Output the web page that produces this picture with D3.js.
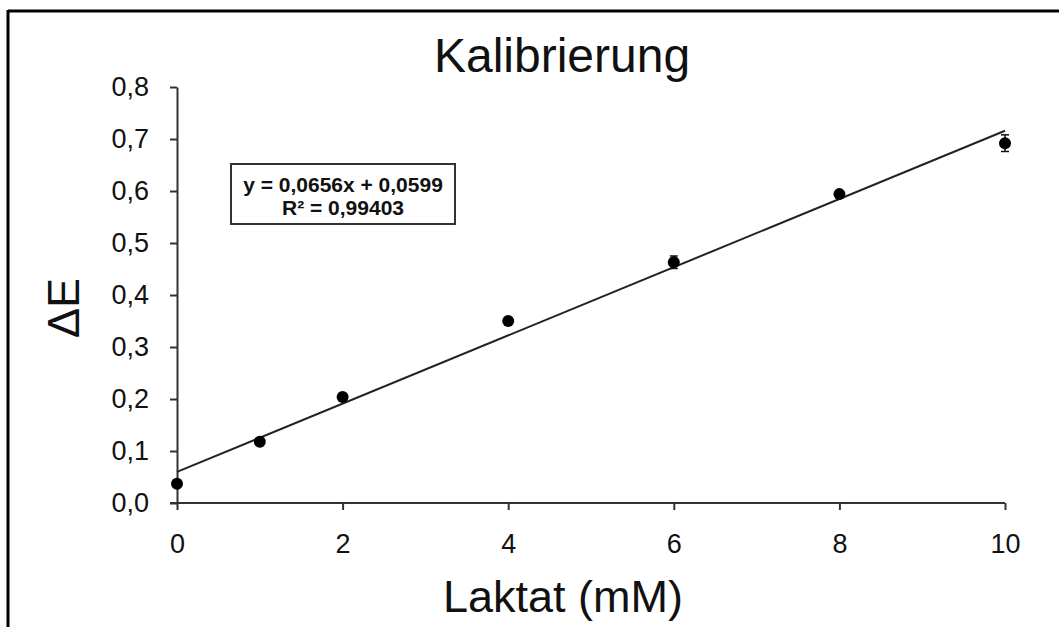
<!DOCTYPE html>
<html lang="de">
<head>
<meta charset="UTF-8">
<script src="https://d3js.org/d3.v7.min.js"></script>
<title>Kalibrierung</title>
<style>
  body { margin: 0; background: #fff; }
  text { font-family: "Liberation Sans", Arial, sans-serif; fill: #111; }
</style>
</head>
<body>
<div id="chart"></div>
<script>
// Data
var laktat = [0, 1, 2, 4, 6, 8, 10];
var deltaE = [0.037, 0.118, 0.204, 0.350, 0.463, 0.594, 0.692];
var errors = [0.004, 0.004, 0.004, 0.006, 0.012, 0.005, 0.016];
var xTicks = [0, 2, 4, 6, 8, 10];
var yTicks = [0, 0.1, 0.2, 0.3, 0.4, 0.5, 0.6, 0.7, 0.8];
var slope = 0.0656, intercept = 0.0599;
var eqLines = ["y = 0,0656x + 0,0599", "R\u00b2 = 0,99403"];

var W = 1059, H = 627;
var margin = { top: 87, right: 54, bottom: 124, left: 177 };
var width = W - margin.left - margin.right,
    height = H - margin.top - margin.bottom;

var svg = d3.select("#chart").append("svg")
    .attr("width", W)
    .attr("height", H);

// frame (only top and left visible)
svg.append("line").attr("x1", 8).attr("x2", W).attr("y1", 11).attr("y2", 11)
    .attr("stroke", "#000").attr("stroke-width", 3);
svg.append("line").attr("x1", 8).attr("x2", 8).attr("y1", 10).attr("y2", H)
    .attr("stroke", "#000").attr("stroke-width", 3);

var g = svg.append("g")
    .attr("transform", "translate(" + margin.left + "," + margin.top + ")");

var x = d3.scaleLinear().domain([0, 10]).range([0, width]);
var y = d3.scaleLinear().domain([0, 0.8]).range([height, 0]);

var fmt = function (d) { return d3.format(".1f")(d).replace(".", ","); };

// y axis
var yAxis = g.append("g")
    .call(d3.axisLeft(y).tickValues(yTicks).tickFormat(fmt).tickSize(7).tickSizeOuter(0).tickPadding(21));
yAxis.select(".domain").attr("stroke", "#333").attr("stroke-width", 2);
yAxis.selectAll(".tick line").attr("stroke", "#333").attr("stroke-width", 2);
yAxis.selectAll(".tick text").attr("font-size", "27px").attr("fill", "#222");

// x axis
var xAxis = g.append("g")
    .attr("transform", "translate(0," + height + ")")
    .call(d3.axisBottom(x).tickValues(xTicks).tickSize(7).tickSizeOuter(0).tickPadding(24));
xAxis.select(".domain").attr("stroke", "#333").attr("stroke-width", 2)
    .attr("d", "M-7,0H" + width);
xAxis.selectAll(".tick line").attr("stroke", "#333").attr("stroke-width", 2);
xAxis.selectAll(".tick text").attr("font-size", "27px").attr("fill", "#222");

// regression line
g.append("line")
    .attr("x1", x(0)).attr("y1", y(intercept))
    .attr("x2", x(10)).attr("y2", y(intercept + slope * 10))
    .attr("stroke", "#222").attr("stroke-width", 2);

var pts = laktat.map(function (d, i) { return { x: d, y: deltaE[i], e: errors[i] }; });

// error bars
var eb = g.selectAll("g.err").data(pts).enter().append("g").attr("class", "err");
eb.append("line")
    .attr("x1", function (d) { return x(d.x); })
    .attr("x2", function (d) { return x(d.x); })
    .attr("y1", function (d) { return y(d.y - d.e); })
    .attr("y2", function (d) { return y(d.y + d.e); })
    .attr("stroke", "#111").attr("stroke-width", 1.5);
eb.selectAll("line.cap").data(function (d) { return [[d.x, d.y - d.e], [d.x, d.y + d.e]]; })
    .enter().append("line").attr("class", "cap")
    .attr("x1", function (d) { return x(d[0]) - 4; })
    .attr("x2", function (d) { return x(d[0]) + 4; })
    .attr("y1", function (d) { return y(d[1]); })
    .attr("y2", function (d) { return y(d[1]); })
    .attr("stroke", "#111").attr("stroke-width", 1.5);

// points
g.selectAll("circle.pt").data(pts).enter().append("circle")
    .attr("class", "pt")
    .attr("cx", function (d) { return x(d.x); })
    .attr("cy", function (d) { return y(d.y); })
    .attr("r", 6)
    .attr("fill", "#000");

// equation box
var box = svg.append("g").attr("transform", "translate(231,164)");
box.append("rect").attr("width", 224).attr("height", 60)
    .attr("fill", "#fff").attr("stroke", "#333").attr("stroke-width", 2);
box.selectAll("text").data(eqLines).enter().append("text")
    .attr("x", 112)
    .attr("y", function (d, i) { return 28 + i * 23; })
    .attr("text-anchor", "middle")
    .attr("font-size", "21px")
    .attr("font-weight", "bold")
    .text(function (d) { return d; });

// titles
svg.append("text").attr("x", 562).attr("y", 72)
    .attr("text-anchor", "middle").attr("font-size", "48px")
    .text("Kalibrierung");
svg.append("text").attr("x", 563).attr("y", 612)
    .attr("text-anchor", "middle").attr("font-size", "45px")
    .text("Laktat (mM)");
svg.append("text")
    .attr("transform", "translate(79,308) rotate(-90)")
    .attr("text-anchor", "middle").attr("font-size", "45px")
    .text("\u0394E");
</script>
</body>
</html>
